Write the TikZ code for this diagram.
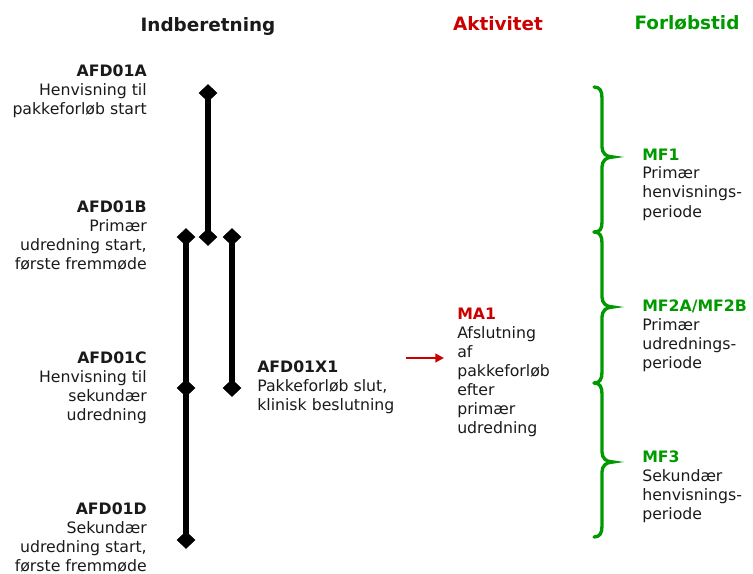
\documentclass[tikz,border=0pt]{standalone}
\usepackage{fontspec}
\setmainfont{DejaVu Sans}
\usetikzlibrary{shapes.geometric,arrows.meta}
\definecolor{ared}{HTML}{CC0000}
\definecolor{fgreen}{HTML}{009A00}
\definecolor{txt}{HTML}{1A1A1A}
\begin{document}
\begin{tikzpicture}[x=0.75pt,y=-0.75pt,
  lbl/.style={inner sep=0pt, font=\fontsize{11.8}{14.25}\selectfont, text=txt},
  lblr/.style={lbl, align=right, anchor=base east},
  lbll/.style={lbl, align=left, anchor=base west},
  hdr/.style={inner sep=0pt, font=\fontsize{13.8}{16}\selectfont\bfseries, anchor=base},
  dia/.style={diamond, fill=black, inner sep=0pt, minimum width=13.5pt, minimum height=12.75pt},
  bar/.style={line width=4.6pt, black},
  brace/.style={draw=fgreen, line width=2.5pt, line cap=round}]
\useasboundingbox (0,0) rectangle (753,574);

% headers
\node[hdr, text=txt] (h1) at (208,32) {Indberetning};
\node[hdr, text=ared] (h2) at (498,31) {Aktivitet};
\node[hdr, text=fgreen] (h3) at (687,30) {Forløbstid};

% left labels (anchored at the baseline of their last line)
\node[lblr] (lA) at (147,115) {\textbf{AFD01A}\\Henvisning til\\pakkeforløb start};
\node[lblr] (lB) at (147,269) {\textbf{AFD01B}\\Primær\\udredning start,\\første fremmøde};
\node[lblr] (lC) at (147,420) {\textbf{AFD01C}\\Henvisning til\\sekundær\\udredning};
\node[lblr] (lD) at (147,571) {\textbf{AFD01D}\\Sekundær\\udredning start,\\første fremmøde};
\node[lbll] (lX) at (257,410) {\textbf{AFD01X1}\\Pakkeforløb slut,\\klinisk beslutning};

% diamonds
\node[dia] (dA) at (208,93) {};
\node[dia] (dA2) at (208,237) {};
\node[dia] (dB1) at (186,237) {};
\node[dia] (dB3) at (232,237) {};
\node[dia] (dC) at (186,388) {};
\node[dia] (dX) at (232,388) {};
\node[dia] (dD) at (186,540) {};

\draw[bar] (dA.center) -- (dA2.center);
\draw[bar] (dB1.center) -- (dC.center) -- (dD.center);
\draw[bar] (dB3.center) -- (dX.center);
% redraw diamonds on top
\foreach \n in {dA,dA2,dB1,dB3,dC,dX,dD} {\fill (\n.north) -- (\n.east) -- (\n.south) -- (\n.west) -- cycle;}

% activity
\coordinate (arS) at (406,358);
\coordinate (arE) at (444,358);
\draw[ared, line width=2pt, -{Triangle[length=6.5pt,width=6.5pt]}] (arS) -- (arE);
\node[lbll] (ma) at (457,433) {\textcolor{ared}{\textbf{MA1}}\\Afslutning\\af\\pakkeforløb\\efter\\primær\\udredning};

% braces
\draw[brace] (594,87) .. controls (600,87) and (602,91) .. (602,98) -- (602,147)
  .. controls (602,153) and (606,157) .. (613,157)
  .. controls (606,157) and (602,161) .. (602,167) -- (602,222)
  .. controls (602,229) and (600,232) .. (594,232);
\draw[brace] (594,232) .. controls (600,232) and (602,236) .. (602,243) -- (602,297)
  .. controls (602,303) and (606,307) .. (613,307)
  .. controls (606,307) and (602,311) .. (602,317) -- (602,372)
  .. controls (602,379) and (600,383) .. (594,383);
\draw[brace] (594,383) .. controls (600,383) and (602,387) .. (602,394) -- (602,452)
  .. controls (602,458) and (606,462) .. (613,462)
  .. controls (606,462) and (602,466) .. (602,472) -- (602,526)
  .. controls (602,533) and (600,537) .. (594,537);

% period labels
\node[lbll] (m1) at (642,217) {\textcolor{fgreen}{\textbf{MF1}}\\Primær\\henvisnings-\\periode};
\node[lbll] (m2) at (642,368) {\textcolor{fgreen}{\textbf{MF2A/MF2B}}\\Primær\\udrednings-\\periode};
\node[lbll] (m3) at (642,519) {\textcolor{fgreen}{\textbf{MF3}}\\Sekundær\\henvisnings-\\periode};
\end{tikzpicture}
\end{document}
